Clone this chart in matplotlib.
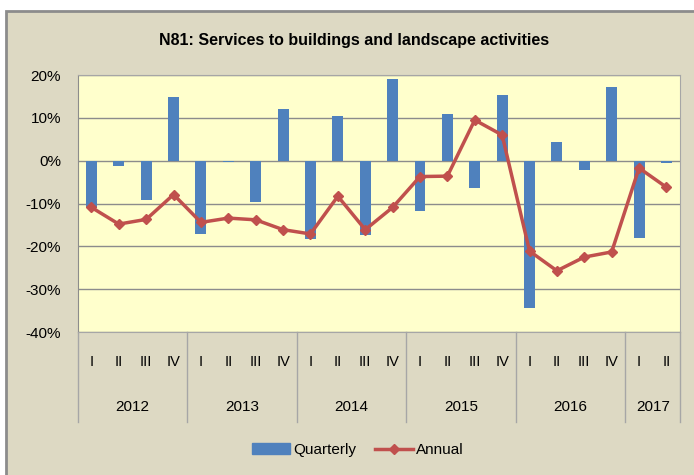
import matplotlib.pyplot as plt
from matplotlib.patches import Rectangle
from matplotlib.lines import Line2D
from matplotlib.ticker import FuncFormatter
import matplotlib.transforms as mtransforms

years = ['2012', '2013', '2014', '2015', '2016', '2017']
quarters_per_year = [4, 4, 4, 4, 4, 2]
quarter_labels = ['I', 'II', 'III', 'IV'] * 5 + ['I', 'II']

quarterly = [-10.9, -1.2, -9.2, 14.9,
             -17.1, -0.4, -9.6, 12.0,
             -18.3, 10.5, -17.4, 19.0,
             -11.8, 10.9, -6.3, 15.3,
             -34.3, 4.3, -2.1, 17.1,
             -18.0, -0.5]
annual = [-10.9, -14.8, -13.7, -7.9,
          -14.4, -13.4, -13.8, -16.1,
          -17.1, -8.3, -16.1, -10.9,
          -3.7, -3.6, 9.5, 6.0,
          -21.1, -25.7, -22.5, -21.3,
          -1.7, -6.2]

plt.rcParams['font.family'] = ['Liberation Sans', 'DejaVu Sans']

bg = '#DDD9C3'
fig = plt.figure(figsize=(6.94, 4.75), dpi=100)
fig.patch.set_facecolor('white')
fig.patches.append(Rectangle((6 / 694, -0.05), 1.1, 1 - 11 / 475 + 0.05,
                             transform=fig.transFigure, facecolor=bg,
                             edgecolor='#8C8C8C', linewidth=2, zorder=-10))

ax = fig.add_axes([0.112, 0.301, 0.868, 0.541])
ax.set_facecolor('#FFFFCC')
x = list(range(len(quarterly)))
ax.bar(x, quarterly, width=0.4, color='#4F81BD', zorder=3)
ax.plot(x, annual, color='#C0504D', linewidth=2.5, marker='D', markersize=5, zorder=4)

ax.set_xlim(-0.5, len(x) - 0.5)
ax.set_ylim(-40, 20)
ax.set_yticks(range(-40, 21, 10))
ax.yaxis.set_major_formatter(FuncFormatter(lambda v, p: f'{int(v)}%'))
ax.tick_params(axis='y', length=0, labelsize=11, pad=12)
ax.set_xticks([])
ax.grid(axis='y', color='#8C8C8C', linewidth=1, zorder=1)
for s in ax.spines.values():
    s.set_color('#A6A6A6')
ax.spines['left'].set_color('#8C8C8C')

# two-level category axis: quarters above, years below
trans = mtransforms.blended_transform_factory(ax.transData, ax.transAxes)
axh = 257.0
for i, q in enumerate(quarter_labels):
    ax.text(i, -30 / axh, q, transform=trans, ha='center', va='center', fontsize=10.5)

start = -0.5
ax.plot([start, start], [0, -90 / axh], transform=trans, color='#A6A6A6', lw=1, clip_on=False)
for yr, n in zip(years, quarters_per_year):
    end = start + n
    ax.plot([end, end], [0, -90 / axh], transform=trans, color='#A6A6A6', lw=1, clip_on=False)
    ax.text((start + end) / 2, -75 / axh, yr, transform=trans, ha='center', va='center', fontsize=11)
    start = end

fig.text(354 / 694, 1 - 40 / 475, 'N81: Services to buildings and landscape activities',
         ha='center', va='center', fontsize=11.5, fontweight='bold')

handles = [Rectangle((0, 0), 1, 1, color='#4F81BD'),
           Line2D([], [], color='#C0504D', lw=2.5, marker='D', markersize=5)]
fig.legend(handles, ['Quarterly', 'Annual'], loc='center', bbox_to_anchor=(358 / 694, 1 - 450 / 475),
           ncol=2, frameon=False, fontsize=11, handlelength=2.5, columnspacing=1.2, handletextpad=0.2)

fig.savefig('out.png', dpi=100, facecolor=fig.get_facecolor())
